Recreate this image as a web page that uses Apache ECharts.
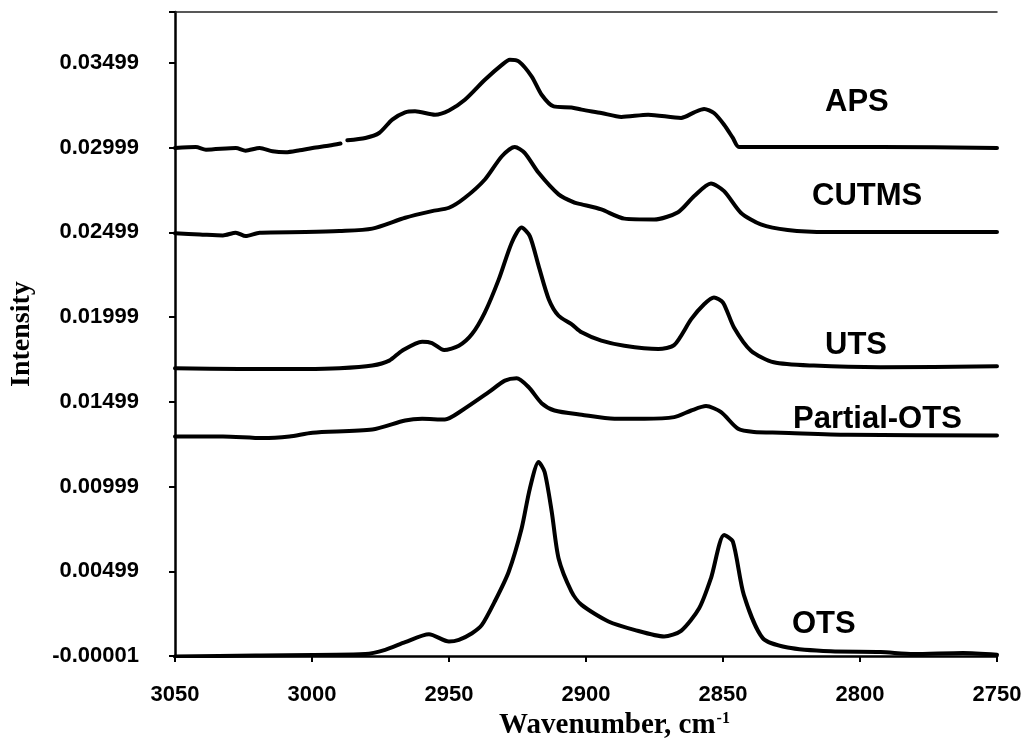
<!DOCTYPE html>
<html>
<head>
<meta charset="utf-8">
<script src="https://cdn.jsdelivr.net/npm/echarts@6/dist/echarts.min.js"></script>
<style>html,body{margin:0;padding:0;background:#fff}#c{width:1036px;height:745px}</style>
</head>
<body>
<div id="c"></div>
<script>
const seriesNames = ['APS', 'CUTMS', 'UTS', 'Partial-OTS', 'OTS'];
const xTicks = [3050, 3000, 2950, 2900, 2850, 2800, 2750];
const yTickLabels = ['-0.00001','0.00499','0.00999','0.01499','0.01999','0.02499','0.02999','0.03499'];

const wnAPS = [3050, 3042.4, 3038.7, 3027.8, 3024.2, 3019.1, 3014.4, 3009.6, 3004.5, 2999.8, 2993.6, 2989.6, 2988.4, 2987.1, 2980.5, 2975.5, 2970.7, 2966, 2962.4, 2955.1, 2950, 2944.2, 2936.9, 2930.7, 2927.8, 2924.5, 2919.8, 2916.2, 2911.8, 2905.3, 2901.6, 2894.4, 2887.1, 2877.3, 2865.3, 2860.5, 2856.9, 2853.3, 2849.6, 2846.4, 2844.2, 2828.9, 2792.5, 2750];
const intAPS = [0.02997, 0.03003, 0.02987, 0.02997, 0.02981, 0.02997, 0.02977, 0.02971, 0.02983, 0.02997, 0.03011, 0.03023, null, 0.03042, 0.03056, 0.03085, 0.03164, 0.03207, 0.03213, 0.03193, 0.03218, 0.03281, 0.03399, 0.03487, 0.03517, 0.03507, 0.03418, 0.03311, 0.03242, 0.03236, 0.03223, 0.03203, 0.03180, 0.03193, 0.03174, 0.03207, 0.03227, 0.03203, 0.03134, 0.03056, 0.03003, 0.03003, 0.03003, 0.02997];

const wnCUTMS = [3050, 3040.9, 3032.5, 3027.8, 3024.2, 3019.1, 3002.4, 2990, 2978, 2966, 2956.2, 2950, 2944.2, 2936.9, 2930.7, 2926, 2922.4, 2917.3, 2910, 2904.2, 2901.6, 2894.4, 2886, 2875.1, 2866.4, 2860.5, 2854.4, 2849.6, 2843.5, 2836.2, 2826.4, 2811.8, 2780.5, 2750];
const intCUTMS = [0.02493, 0.02487, 0.02481, 0.02497, 0.02477, 0.02497, 0.02501, 0.02507, 0.02521, 0.02585, 0.02624, 0.02644, 0.02703, 0.02811, 0.02948, 0.03003, 0.02968, 0.02850, 0.02723, 0.02674, 0.02664, 0.02634, 0.02580, 0.02575, 0.02618, 0.02713, 0.02787, 0.02742, 0.02615, 0.02546, 0.02513, 0.02501, 0.02501, 0.02501];

const wnUTS = [3050, 3026.4, 3002.4, 2990, 2978, 2971.8, 2967.1, 2959.8, 2956.2, 2951.8, 2946.4, 2941.6, 2936.9, 2931.8, 2927.1, 2923.5, 2920.5, 2917.3, 2913.6, 2910, 2905.3, 2901.6, 2894.4, 2886, 2873.6, 2867.8, 2861.6, 2856.9, 2853.3, 2850, 2846, 2839.8, 2831.5, 2816.9, 2792.5, 2750];
const intUTS = [0.01697, 0.01693, 0.01693, 0.01697, 0.01713, 0.01742, 0.01801, 0.01854, 0.01846, 0.01805, 0.01830, 0.01899, 0.02027, 0.02223, 0.02438, 0.02527, 0.02477, 0.02301, 0.02105, 0.02007, 0.01958, 0.01909, 0.01860, 0.01830, 0.01811, 0.01834, 0.01987, 0.02075, 0.02115, 0.02085, 0.01938, 0.01801, 0.01733, 0.01713, 0.01703, 0.01709];

const wnPOTS = [3050, 3032.5, 3018, 3008.2, 2999.8, 2978, 2966, 2959.8, 2951.5, 2945.3, 2935.5, 2929.6, 2925.3, 2920.9, 2916.2, 2911.5, 2901.6, 2889.6, 2878.7, 2867.8, 2861.6, 2856.2, 2850.7, 2844.5, 2838.7, 2828.9, 2804.5, 2750];
const intPOTS = [0.01295, 0.01295, 0.01285, 0.01295, 0.01317, 0.01336, 0.01389, 0.01399, 0.01395, 0.01448, 0.01556, 0.01624, 0.01638, 0.01585, 0.01491, 0.01448, 0.01423, 0.01399, 0.01399, 0.01409, 0.01448, 0.01474, 0.01438, 0.01340, 0.01321, 0.01317, 0.01305, 0.01301];

const wnOTS = [3050, 3020.5, 2980.5, 2973.3, 2966, 2957.3, 2950, 2946.4, 2941.6, 2938, 2933.3, 2928.2, 2923.5, 2920.5, 2917.3, 2915.1, 2912.5, 2910, 2905.3, 2901.6, 2891.8, 2882.4, 2871.5, 2865.3, 2858.7, 2854.4, 2849.6, 2846.4, 2842.4, 2835.5, 2826.4, 2810.7, 2792.5, 2780.5, 2762.4, 2750];
const intOTS = [-0.00003, 0.00003, 0.00011, 0.00036, 0.00081, 0.00128, 0.00085, 0.00095, 0.00134, 0.00183, 0.00321, 0.00497, 0.00752, 0.00987, 0.01144, 0.01085, 0.00850, 0.00575, 0.00380, 0.00301, 0.00203, 0.00154, 0.00115, 0.00148, 0.00281, 0.00458, 0.00713, 0.00674, 0.00360, 0.00105, 0.00050, 0.00027, 0.00023, 0.00011, 0.00017, 0.00007];

// axis baseline is -0.00001; the axis is built from 0 with interval 0.005
const OFFSET = 0.00001;

const chart = echarts.init(document.getElementById('c'), null, {renderer: 'canvas'});

function build(wn, vals) {
  return wn.map((x, i) => [x, vals[i] == null ? '-' : +(vals[i] + OFFSET).toFixed(6)]);
}
const curves = [[wnAPS, intAPS], [wnCUTMS, intCUTMS], [wnUTS, intUTS], [wnPOTS, intPOTS], [wnOTS, intOTS]];

const labelFont = 'bold 31px "Liberation Sans", Arial, sans-serif';
const labelPos = [[825, 102], [812, 196], [825, 345], [793, 419], [792, 624]];

const option = {
  backgroundColor: '#fff',
  animation: false,
  grid: {left: 172, right: 39, top: 12, bottom: 87},
  xAxis: [{
    type: 'value', min: 2750, max: 3050, interval: 50, inverse: true,
    position: 'bottom',
    name: '{a|Wavenumber, cm}{s|-1}',
    nameLocation: 'middle', nameGap: 53,
    nameTextStyle: {
      padding: [0, 0, 0, 57],
      rich: {
        a: {fontFamily: '"Liberation Serif", "Times New Roman", serif', fontWeight: 'bold', fontSize: 29, color: '#000'},
        s: {fontFamily: '"Liberation Serif", "Times New Roman", serif', fontWeight: 'bold', fontSize: 16, color: '#000', verticalAlign: 'top', padding: [0, 0, 12, 1]}
      }
    },
    axisLine: {show: true, lineStyle: {color: '#000', width: 2.5}},
    axisTick: {show: true, inside: false, length: 6, lineStyle: {color: '#000', width: 2}},
    axisLabel: {show: true, margin: 28, color: '#000', fontFamily: '"Liberation Sans", Arial, sans-serif', fontWeight: 'bold', fontSize: 22,
      formatter: v => xTicks.indexOf(v) >= 0 ? String(v) : ''},
    splitLine: {show: false}
  }, {
    type: 'value', min: 2750, max: 3050, inverse: true, position: 'top',
    axisLine: {show: true, lineStyle: {color: '#222', width: 1.5}},
    axisTick: {show: false}, axisLabel: {show: false}, splitLine: {show: false}
  }],
  yAxis: {
    type: 'value', min: 0, max: 0.038, interval: 0.005,
    name: 'Intensity', nameLocation: 'middle', nameRotate: 90, nameGap: 139,
    nameTextStyle: {fontFamily: '"Liberation Serif", "Times New Roman", serif', fontWeight: 'bold', fontSize: 28, color: '#000'},
    axisLine: {show: true, lineStyle: {color: '#000', width: 2.5}},
    axisTick: {show: true, inside: false, length: 6, lineStyle: {color: '#000', width: 2}},
    axisLabel: {show: true, margin: 36, color: '#000', fontFamily: '"Liberation Sans", Arial, sans-serif', fontWeight: 'bold', fontSize: 22,
      formatter: v => { const i = Math.round(v / 0.005); return yTickLabels[i] || ''; }},
    splitLine: {show: false}
  },
  series: curves.map((c, i) => ({
    name: seriesNames[i], type: 'line', xAxisIndex: 0,
    data: build(c[0], c[1]),
    showSymbol: false, smooth: 0.25, connectNulls: false,
    lineStyle: {color: '#000', width: 4, cap: 'round', join: 'round'}
  })),
  graphic: seriesNames.map((n, i) => ({
    type: 'text', x: labelPos[i][0], y: labelPos[i][1],
    style: {text: n, font: labelFont, fill: '#000', align: 'left', verticalAlign: 'middle'}
  }))
};
chart.setOption(option);
</script>
</body>
</html>
